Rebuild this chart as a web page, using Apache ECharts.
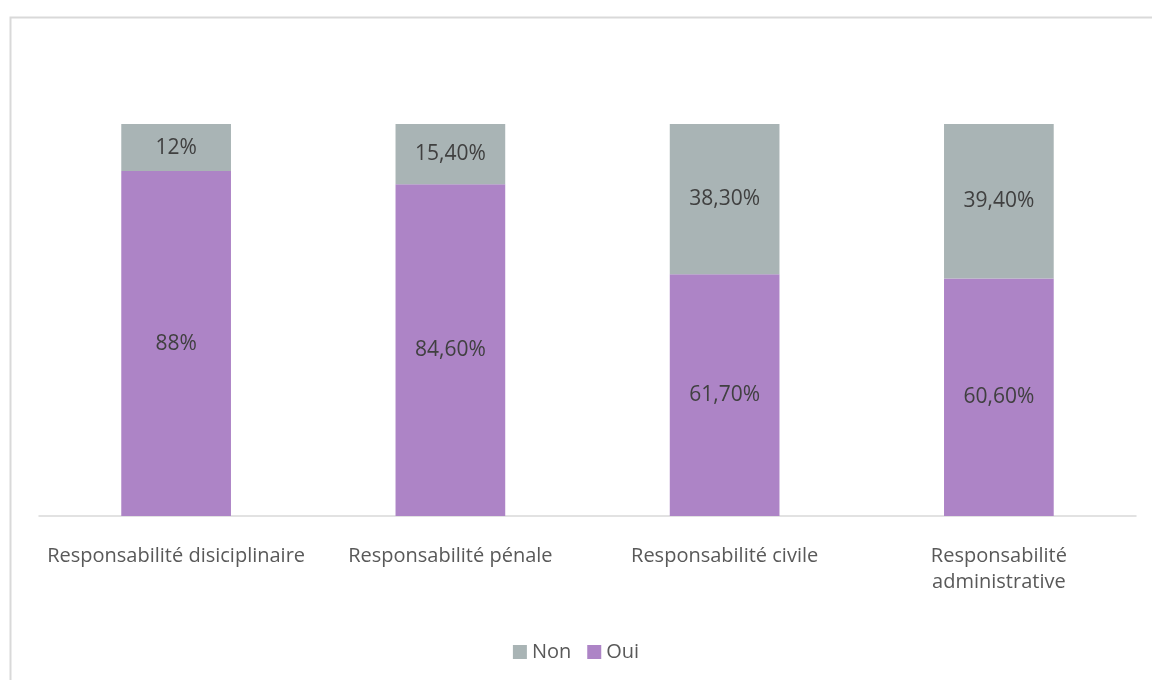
<!DOCTYPE html>
<html>
<head>
<meta charset="utf-8">
<script src="https://cdn.jsdelivr.net/npm/echarts@6/dist/echarts.min.js"></script>
<style>
  html, body { margin: 0; padding: 0; background: #fff; }
  #chart { width: 1152px; height: 680px; }
</style>
</head>
<body>
<div id="chart"></div>
<script>
// Categories and shares (percent) of each answer
const categories = [
  'Responsabilité disiciplinaire',
  'Responsabilité pénale',
  'Responsabilité civile',
  'Responsabilité administrative'
];
const ouiValues = [88, 84.6, 61.7, 60.6];
const nonValues = [12, 15.4, 38.3, 39.4];
const seriesNames = ['Non', 'Oui'];

const FONT = '"Open Sans", "Noto Sans", sans-serif';
const AXIS_FONT_SIZE = 20;
const MAX_LABEL_WIDTH = 268;

// French-style percent: "12%" or "15,40%"
function fmtPct(v) {
  if (Number.isInteger(v)) return v + '%';
  return v.toFixed(2).replace('.', ',') + '%';
}

// Wrap a category label onto two lines when it is wider than its slot
const measureCtx = document.createElement('canvas').getContext('2d');
function wrapLabel(text) {
  measureCtx.font = AXIS_FONT_SIZE + 'px ' + FONT;
  if (measureCtx.measureText(text).width <= MAX_LABEL_WIDTH) return text;
  const i = text.indexOf(' ');
  return i > 0 ? text.slice(0, i) + '\n' + text.slice(i + 1) : text;
}

const chart = echarts.init(document.getElementById('chart'), null, { renderer: 'canvas' });

const labelStyle = {
  show: true,
  position: 'inside',
  color: '#404040',
  fontFamily: FONT,
  fontSize: 21,
  formatter: p => fmtPct(p.value)
};

chart.setOption({
  animation: false,
  backgroundColor: '#ffffff',
  graphic: [{
    type: 'rect',
    left: 8, top: 15,
    shape: { width: 1170, height: 700 },
    style: { fill: 'none', stroke: '#D9D9D9', lineWidth: 2 },
    silent: true
  }],
  grid: { left: 39, right: 16, top: 124, bottom: 164, containLabel: false },
  legend: {
    data: seriesNames,
    bottom: 13,
    left: 'center',
    icon: 'rect',
    itemWidth: 14,
    itemHeight: 14,
    itemGap: 16,
    textStyle: { color: '#595959', fontFamily: FONT, fontSize: 20 }
  },
  xAxis: {
    type: 'category',
    data: categories,
    axisLine: { show: true, lineStyle: { color: '#D9D9D9', width: 1.5 } },
    axisTick: { show: false },
    axisLabel: {
      color: '#595959',
      fontFamily: FONT,
      fontSize: AXIS_FONT_SIZE,
      margin: 27,
      lineHeight: 26,
      interval: 0,
      formatter: wrapLabel
    }
  },
  yAxis: {
    type: 'value',
    min: 0,
    max: 100,
    show: false,
    splitLine: { show: false }
  },
  series: [
    {
      name: 'Oui',
      type: 'bar',
      stack: 'total',
      data: ouiValues,
      barWidth: '40%',
      itemStyle: { color: '#AD84C6' },
      label: labelStyle
    },
    {
      name: 'Non',
      type: 'bar',
      stack: 'total',
      data: nonValues,
      barWidth: '40%',
      itemStyle: { color: '#A9B4B5' },
      label: labelStyle
    }
  ]
});
</script>
</body>
</html>
